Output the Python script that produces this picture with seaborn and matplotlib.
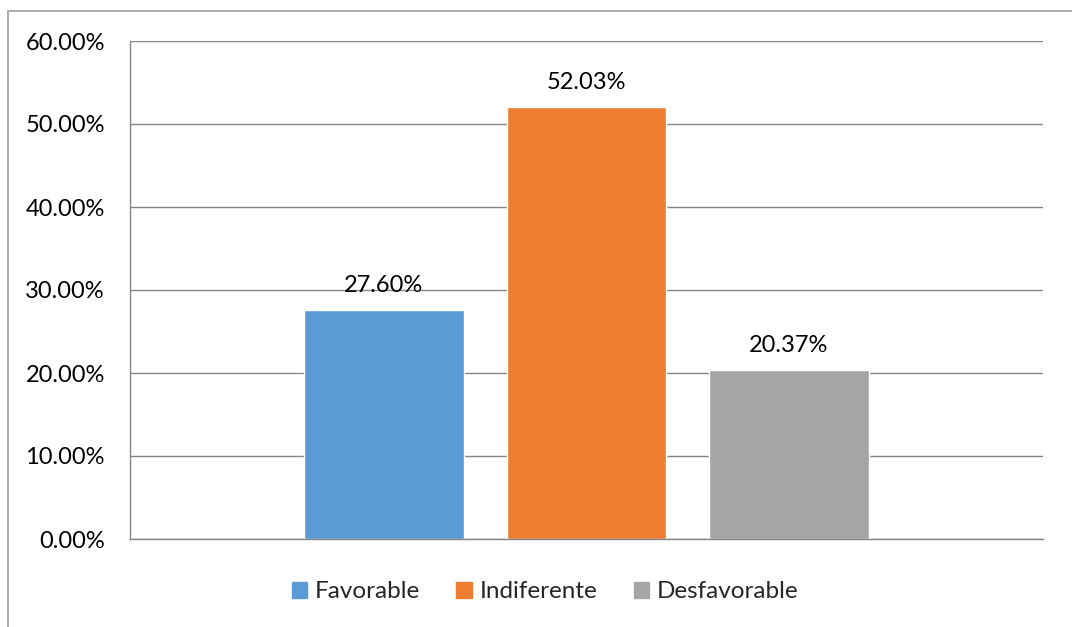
import matplotlib
matplotlib.use("Agg")
import matplotlib.pyplot as plt
import seaborn as sns
import pandas as pd
from matplotlib.patches import Rectangle
from matplotlib.ticker import FuncFormatter

categories = ["Favorable", "Indiferente", "Desfavorable"]
values = [27.60, 52.03, 20.37]
colors = ["#5B9BD5", "#ED7D31", "#A5A5A5"]
yticks = [0, 10, 20, 30, 40, 50, 60]

sns.set_theme(style="white")
plt.rcParams['font.family'] = ['Lato', 'DejaVu Sans']

df = pd.DataFrame({"cat": categories, "val": values})

fig = plt.figure(figsize=(10.72, 6.27), dpi=100)
ax = fig.add_axes([130/1072, 1-539/627, (1043-130)/1072, (539-41)/627])

sns.barplot(data=df, x="cat", y="val", hue="cat", palette=colors, width=0.79,
            ax=ax, legend=False, saturation=1)

ax.set_xlim(-1.254, 3.254)
ax.set_ylim(0, 60)
ax.set_yticks(yticks)
ax.yaxis.set_major_formatter(FuncFormatter(lambda v, p: f"{v:.2f}%"))
ax.tick_params(axis='y', labelsize=17, length=0, pad=18, colors="#000000")
ax.set_xticks([])
ax.set_xlabel("")
ax.set_ylabel("")
ax.grid(axis='y', color="#868686", linewidth=1)
ax.set_axisbelow(True)
for s in ["top", "right"]:
    ax.spines[s].set_visible(False)
for s in ["left", "bottom"]:
    ax.spines[s].set_color("#868686")
    ax.spines[s].set_linewidth(1)

for i, v in enumerate(values):
    ax.annotate(f"{v:.2f}%", (i, v), xytext=(0, 10), textcoords="offset points",
                ha="center", va="bottom", fontsize=17, color="#000000")

handles = [Rectangle((0, 0), 1, 1, color=c) for c in colors]
fig.legend(handles, categories, loc="center", bbox_to_anchor=(545/1072, 1-592/627),
           ncol=3, frameon=False, fontsize=17.5, handlelength=0.65, handleheight=0.65,
           handletextpad=0.3, columnspacing=1.5)

fig.patches.append(Rectangle((8/1072, -0.1), 1.2, 1.1 - 11/627, transform=fig.transFigure,
                             fill=False, edgecolor="#A0A0A0", linewidth=1.2, zorder=0))

fig.savefig("out.png", dpi=100)
